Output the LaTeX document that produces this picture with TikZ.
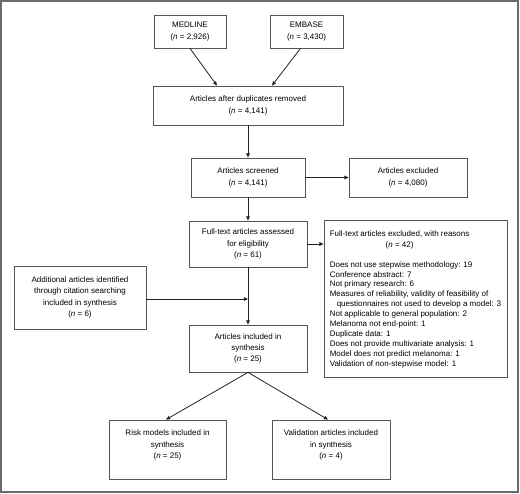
\documentclass[tikz,border=0pt]{standalone}
\usepackage{fontspec}
\setmainfont{Liberation Sans}
\usetikzlibrary{arrows.meta}
\definecolor{boxline}{HTML}{555555}
\definecolor{frameline}{HTML}{6A6A6A}
\definecolor{arrowline}{HTML}{222222}
\begin{document}
\begin{tikzpicture}[x=1pt,y=-1pt,
  box/.style={draw=boxline,line width=0.8pt,rectangle,inner sep=0pt,align=center,
    font=\fontsize{8}{11.3}\selectfont},
  plain/.style={inner sep=0pt,align=center,font=\fontsize{8}{11.3}\selectfont},
  arr/.style={draw=arrowline,line width=0.8pt,-{Triangle[length=4.2pt,width=3.6pt]}},
  ln/.style={draw=arrowline,line width=0.8pt}]
\useasboundingbox (0,0) rectangle (520,494);
\draw[frameline,line width=1.8pt] (1,1) rectangle (518.3,492);

\node[box,minimum width=72pt,minimum height=33pt] (medline) at (190,31.5)
  {MEDLINE\\(\textit{n} = 2,926)};
\node[box,minimum width=73pt,minimum height=33pt] (embase) at (306.5,31.5)
  {EMBASE\\(\textit{n} = 3,430)};
\node[box,minimum width=190pt,minimum height=39pt] (dup) at (248,105.5)
  {Articles after duplicates removed\\(\textit{n} = 4,141)};
\node[box,minimum width=114pt,minimum height=39pt] (screened) at (248,177.5)
  {Articles screened\\(\textit{n} = 4,141)};
\node[box,minimum width=118pt,minimum height=39pt] (excluded) at (408,177.5)
  {Articles excluded\\(\textit{n} = 4,080)};
\node[box,minimum width=118pt,minimum height=46pt] (fulltext) at (248,244)
  {Full-text articles assessed\\for eligibility\\(\textit{n} = 61)};
\node[box,minimum width=183pt,minimum height=157pt,align=left,
  font=\fontsize{8}{9.9}\selectfont] (reasons) at (415.5,298.5)
  {\begin{tabular}[b]{@{}c@{}}Full-text articles excluded, with reasons\\[1.4pt](\textit{n} = 42)\end{tabular}\\[9.9pt]
   Does not use stepwise methodology: 19\\
   Conference abstract: 7\\
   Not primary research: 6\\
   Measures of reliability, validity of feasibility of\\
   \hspace*{7pt}questionnaires not used to develop a model: 3\\
   Not applicable to general population: 2\\
   Melanoma not end-point: 1\\
   Duplicate data: 1\\
   Does not provide multivariate analysis: 1\\
   Model does not predict melanoma: 1\\
   Validation of non-stepwise model: 1};
\node[box,minimum width=132pt,minimum height=63pt] (additional) at (80,297.5)
  {Additional articles identified\\through citation searching\\included in synthesis\\(\textit{n} = 6)};
\node[box,minimum width=118pt,minimum height=47pt] (included) at (248,348.5)
  {Articles included in\\synthesis\\(\textit{n} = 25)};
\node[box,minimum width=117pt,minimum height=59pt] (risk) at (167.5,449.5) {};
\node[plain] (risktext) at (167.5,445) {Risk models included in\\synthesis\\(\textit{n} = 25)};
\node[box,minimum width=118pt,minimum height=59pt] (valid) at (331,449.5) {};
\node[plain] (validtext) at (331,445) {Validation articles included\\in synthesis\\(\textit{n} = 4)};

\draw[arr] (medline.south) -- ([xshift=-31pt]dup.north);
\draw[arr] ([xshift=-6pt]embase.south) -- ([xshift=24pt]dup.north);
\draw[arr] (dup.south) -- (screened.north);
\draw[arr] (screened.east) -- (excluded.west);
\draw[arr] (screened.south) -- (fulltext.north);
\draw[arr] (fulltext.east) -- (fulltext.east -| reasons.west);
\draw[arr] (fulltext.south) -- (included.north);
\draw[arr] ([yshift=-1.5pt]additional.east) -- ([yshift=-1.5pt]additional.east -| fulltext.south);
\draw[arr] (included.south) -- ([xshift=-1.5pt]risk.north);
\draw[arr] (included.south) -- ([xshift=-3pt]valid.north);
\end{tikzpicture}
\end{document}
